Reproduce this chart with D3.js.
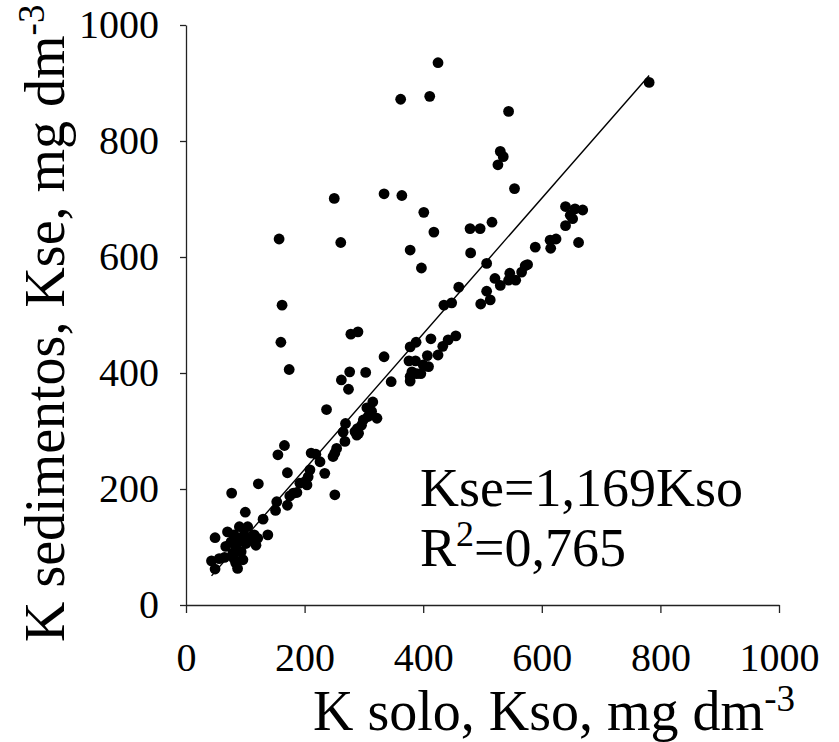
<!DOCTYPE html>
<html>
<head>
<meta charset="utf-8">
<script src="https://cdn.jsdelivr.net/npm/d3@7"></script>
<style>
  body { margin: 0; background: #fff; }
  svg text { font-family: "Liberation Serif", serif !important; fill: #000; }
</style>
</head>
<body>
<svg id="chart"></svg>
<script>
// K solo (x) and K sedimentos (y), mg dm-3
const kSolo = [
  425, 362, 411, 781, 544, 530, 535, 526, 554, 250, 334, 364, 157, 261, 401, 418, 378, 397,
  479, 496, 516, 480, 507, 162, 160, 174, 278, 290,
  521, 530, 507, 513, 497, 460, 435, 448, 546, 544, 556, 566, 572, 576, 589, 614, 624, 615,
  662, 640, 656, 669, 648, 652, 640,
  413, 378, 388, 376, 387, 407, 425, 433, 442, 455, 409, 400, 381, 389, 396, 378, 378, 334,
  346, 303, 276, 262, 274, 237, 315, 305, 313, 322, 307, 299, 296, 289, 291, 288, 285, 269,
  265, 268, 254, 251, 248, 166, 155, 211, 219, 226, 234, 209, 206, 201, 192, 204, 171, 122,
  251, 181, 175, 187, 153, 171, 151, 77, 100, 130, 138, 49,
  70, 90, 104, 81, 98, 115, 121, 67, 84, 101, 118, 79, 93, 65, 81, 96, 87, 43, 49, 76, 90,
  107, 84, 56
];
const kSed = [
  935, 872, 877, 901, 851, 782, 773, 759, 718, 701, 709, 706, 631, 625, 677, 643, 612, 581,
  649, 649, 660, 607, 589, 517, 453, 406, 467, 471,
  563, 551, 541, 526, 519, 548, 517, 521, 572, 560, 560, 574, 585, 587, 617, 629, 631, 615,
  625, 687, 683, 681, 672, 666, 654,
  459, 445, 453, 421, 421, 430, 431, 446, 457, 464, 411, 414, 402, 399, 399, 394, 386, 428,
  385, 401, 402, 388, 372, 337, 350, 340, 334, 322, 325, 319, 310, 304, 296, 293, 299, 313,
  298, 282, 270, 262, 256, 275, 259, 262, 260, 247, 227, 233, 221, 213, 210, 207, 228, 209,
  190, 193, 188, 194, 178, 172, 163, 193, 160, 148, 121, 116,
  126, 135, 135, 121, 121, 121, 115, 101, 101, 106, 103, 89, 92, 82, 80, 78, 63, 76, 62, 109,
  112, 112, 72, 80
];
const slope = 1.169;
const xTicks = [0, 200, 400, 600, 800, 1000];
const yTicks = [0, 200, 400, 600, 800, 1000];

const width = 839, height = 742;
const serif = "Liberation Serif";
const svg = d3.select("#chart").attr("width", width).attr("height", height)
  .attr("font-family", serif);

const x = d3.scaleLinear().domain([0, 1000]).range([186, 779]);
const y = d3.scaleLinear().domain([0, 1000]).range([605, 25]);

// axes
const xAxis = svg.append("g")
  .attr("transform", `translate(0,${y(0)})`)
  .call(d3.axisBottom(x).tickValues(xTicks).tickSize(8).tickSizeOuter(0).tickFormat(d3.format("d")));
xAxis.attr("font-family", serif).attr("font-size", 40);
xAxis.selectAll("text").attr("y", 38).attr("dy", "0.71em");

const yAxis = svg.append("g")
  .attr("transform", `translate(${x(0)},0)`)
  .call(d3.axisLeft(y).tickValues(yTicks).tickSize(6).tickSizeOuter(0).tickFormat(d3.format("d")));
yAxis.attr("font-family", serif).attr("font-size", 40);
yAxis.selectAll("text").attr("x", -27);

svg.selectAll(".domain, .tick line").attr("stroke", "#222").attr("stroke-width", 1.3);

// trend line
const pts = kSolo.map((d, i) => [d, kSed[i]]);
const [x0, x1] = d3.extent(kSolo);
svg.append("line")
  .attr("x1", x(x0)).attr("y1", y(x0 * slope))
  .attr("x2", x(x1)).attr("y2", y(x1 * slope))
  .attr("stroke", "#000").attr("stroke-width", 1.4);

svg.append("g").selectAll("circle")
  .data(pts)
  .join("circle")
  .attr("cx", d => x(d[0]))
  .attr("cy", d => y(d[1]))
  .attr("r", 5.4)
  .attr("fill", "#000");

// equation
svg.append("text").attr("x", 420).attr("y", 506).attr("font-size", 54).text("Kse=1,169Kso");
const r2 = svg.append("text").attr("x", 420).attr("y", 566).attr("font-size", 54);
r2.append("tspan").text("R");
r2.append("tspan").attr("dy", -20).attr("font-size", 36).text("2");
r2.append("tspan").attr("dy", 20).text("=0,765");

// axis titles
const xt = svg.append("text").attr("x", 313).attr("y", 730).attr("font-size", 56);
xt.append("tspan").text("K solo, Kso, mg dm");
xt.append("tspan").attr("dy", -19).attr("font-size", 37).text("-3");

const yt = svg.append("text")
  .attr("transform", "translate(64,642) rotate(-90)")
  .attr("font-size", 56);
yt.append("tspan").text("K sedimentos, Kse, mg dm");
yt.append("tspan").attr("dy", -20).attr("font-size", 37).text("-3");
</script>
</body>
</html>
